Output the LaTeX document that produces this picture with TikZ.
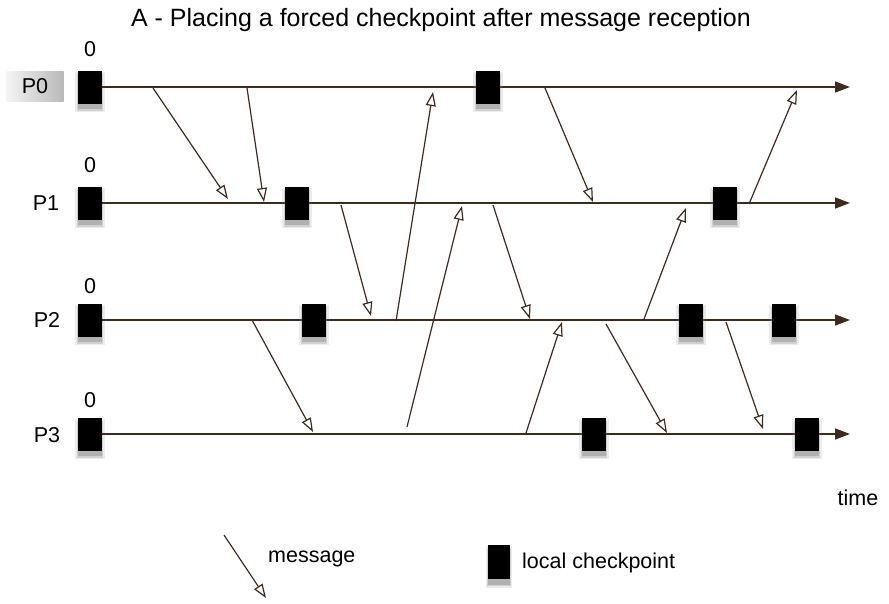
\documentclass[tikz,border=0pt]{standalone}
\usepackage{fontspec}
\setmainfont{Liberation Sans}
\usepackage{xcolor}
\usepackage{tikz}
\usetikzlibrary{arrows.meta,shadows}
\definecolor{lineBrown}{HTML}{3D2B1F}

\begin{document}
\begin{tikzpicture}[
  x=1pt, y=-1pt,
  every node/.style={font=\fontsize{21.5}{26}\selectfont, inner sep=0pt},
  ckpt/.style={fill=black, minimum width=24pt, minimum height=33pt,
    drop shadow={shadow xshift=0pt, shadow yshift=-4pt, shadow scale=1.22, opacity=0.15},
    drop shadow={shadow xshift=0pt, shadow yshift=-5pt, shadow scale=1.1, opacity=0.25},
    drop shadow={shadow xshift=0pt, shadow yshift=-6pt, shadow scale=0.98, opacity=0.4}},
  timeline/.style={draw=lineBrown, line width=1.5pt, -{Triangle[length=15pt, width=11pt]}},
  msg/.style={draw=lineBrown, line width=1.2pt, -{Triangle[open, length=14pt, width=10pt, fill=white]}},
  procTag/.style={minimum width=57pt, minimum height=30pt, left color=gray!8, right color=gray!55}
]
\useasboundingbox (0,0) rectangle (889,603);

\node[font=\fontsize{25}{30}\selectfont] (title) at (441,20) {A - Placing a forced checkpoint after message reception};

\node[procTag] (p0) at (35,86) {P0};
\node (p1) at (46,203) {P1};
\node (p2) at (47,320) {P2};
\node (p3) at (47,435) {P3};

\foreach \i/\y/\zy in {0/87/49, 1/203/165, 2/320/286, 3/434/400} {
  \node (zero\i) at (90,\zy) {0};
  \node[ckpt] (c\i start) at (90,\y) {};
  \coordinate (end\i) at (850,\y);
  \draw[timeline] (c\i start.east) -- (end\i);
}

\node[ckpt] (c0a) at (488,87) {};
\node[ckpt] (c1a) at (297,203) {};
\node[ckpt] (c1b) at (725,203) {};
\node[ckpt] (c2a) at (314,320) {};
\node[ckpt] (c2b) at (691,320) {};
\node[ckpt] (c2c) at (784,320) {};
\node[ckpt] (c3a) at (594,434) {};
\node[ckpt] (c3b) at (807,434) {};

\foreach \m/\sx/\sy/\ex/\ey in {
  a/153/88/228/199, b/247/88/264/202, c/341/205/371/316, d/396/321/433/92,
  e/407/427/462/206, f/493/205/530/319, g/545/88/593/202, h/526/433/562/322,
  i/606/324/667/433, j/644/319/686/208, k/726/322/763/429, l/749/204/797/90,
  n/252/320/313/432} {
  \coordinate (\m from) at (\sx,\sy);
  \coordinate (\m to) at (\ex,\ey);
  \draw[msg] (\m from) -- (\m to);
}

\node (time) at (858,498) {time};

\coordinate (legFrom) at (224,535);
\coordinate (legTo) at (266,598);
\draw[msg] (legFrom) -- (legTo);
\node[anchor=west] (msgLabel) at (268,559) {message};
\node[ckpt, minimum width=22pt, minimum height=34pt] (legCkpt) at (499,562) {};
\node[anchor=west] (ckptLabel) at (522,563) {local checkpoint};
\end{tikzpicture}
\end{document}
